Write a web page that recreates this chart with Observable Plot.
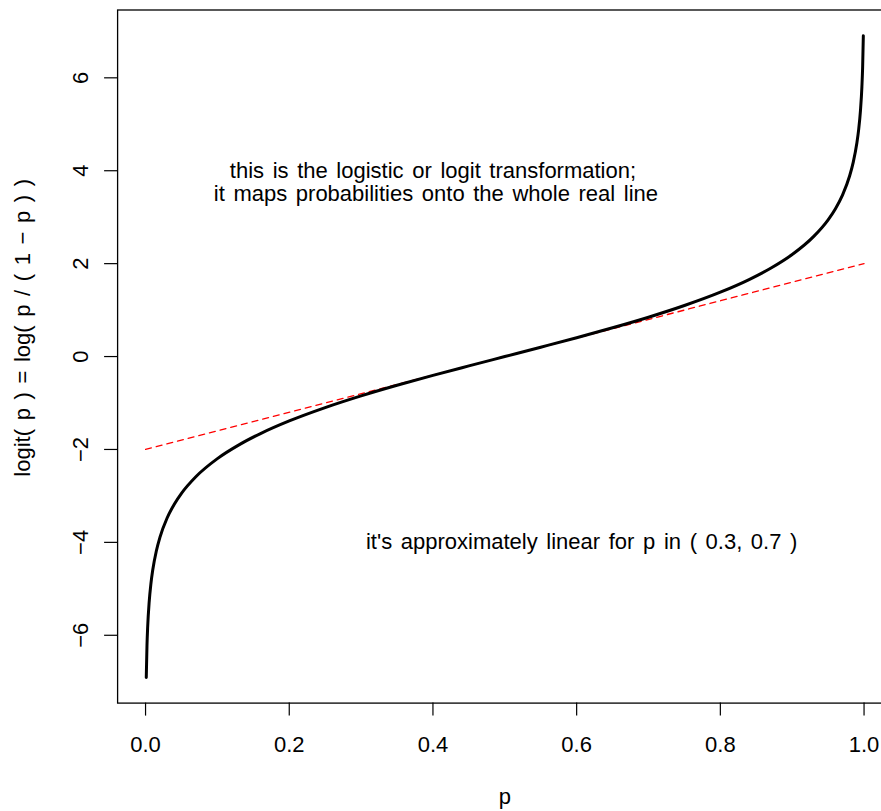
<!DOCTYPE html>
<html>
<head>
<meta charset="utf-8">
<script src="https://cdn.jsdelivr.net/npm/d3@7"></script>
<script src="https://cdn.jsdelivr.net/npm/@observablehq/plot@0.6"></script>
<style>
  html, body { margin: 0; padding: 0; background: #fff; overflow: hidden; }
  svg { display: block; }
  svg text { word-spacing: 2.5px; }
</style>
</head>
<body>
<div id="chart"></div>
<script>
// Values
const pValues = [0.001, 0.002, 0.003, 0.005, 0.0075, 0.01, 0.015, 0.02, 0.03, 0.04, 0.05, 0.07, 0.1, 0.13, 0.16, 0.2, 0.25, 0.3, 0.35, 0.4, 0.45, 0.5,
                 0.55, 0.6, 0.65, 0.7, 0.75, 0.8, 0.84, 0.87, 0.9, 0.93, 0.95, 0.96, 0.97, 0.98, 0.985, 0.99, 0.9925, 0.995, 0.997, 0.998, 0.999];
const logitValues = [-6.907, -6.213, -5.806, -5.293, -4.885, -4.595, -4.185, -3.892, -3.476, -3.178, -2.944, -2.587, -2.197, -1.901, -1.658, -1.386, -1.099, -0.847, -0.619, -0.405, -0.201, 0,
                     0.201, 0.405, 0.619, 0.847, 1.099, 1.386, 1.658, 1.901, 2.197, 2.587, 2.944, 3.178, 3.476, 3.892, 4.185, 4.595, 4.885, 5.293, 5.806, 6.213, 6.907];
const refP = [0, 1];
const refY = [-2, 2];
const xTicks = [0, 0.2, 0.4, 0.6, 0.8, 1.0];
const xTickLabels = ["0.0", "0.2", "0.4", "0.6", "0.8", "1.0"];
const yTicks = [-6, -4, -2, 0, 2, 4, 6];
const yTickLabels = ["\u22126", "\u22124", "\u22122", "0", "2", "4", "6"];
const xTitle = "p";
const yTitle = "logit( p ) = log( p / ( 1 \u2212 p ) )";
const note1 = ["this is the logistic or logit transformation;", "it maps probabilities onto the whole real line"];
const note2 = "it's approximately linear for p in ( 0.3, 0.7 )";

const curveData = pValues.map((p, i) => ({p, y: logitValues[i]}));
const refData = refP.map((p, i) => ({p, y: refY[i]}));
const xt = xTicks.map((v, i) => ({v, label: xTickLabels[i]}));
const yt = yTicks.map((v, i) => ({v, label: yTickLabels[i]}));

const W = 881, H = 811;
const pLeft = 117.1, pRight = 891.5, pTop = 9.5, pBottom = 702.6;
const FS = 22;

const chart = Plot.plot({
  width: W,
  height: H,
  marginLeft: pLeft,
  marginRight: W - pRight,
  marginTop: pTop,
  marginBottom: H - pBottom,
  style: {fontFamily: "'Liberation Sans', Arial, Helvetica, sans-serif", fontSize: FS + "px", background: "#fff", color: "#000"},
  x: {domain: [-0.0389, 1.0389], range: [pLeft, pRight], axis: null},
  y: {domain: [-7.46, 7.46], range: [pBottom, pTop], axis: null},
  marks: [
    Plot.line(refData, {x: "p", y: "y", stroke: "#ff0000", strokeWidth: 1.3, strokeDasharray: "6,5"}),
    Plot.line(curveData, {x: "p", y: "y", stroke: "#000", strokeWidth: 3, curve: "monotone-x"}),
    Plot.frame({stroke: "#000", strokeWidth: 1.3}),
    Plot.axisX(xTicks, {tickSize: 13, tickFormat: () => "", strokeWidth: 1.2}),
    Plot.text(xt, {x: "v", text: "label", frameAnchor: "bottom", dy: 33.5, lineAnchor: "top", fontSize: FS}),
    Plot.axisY(yTicks, {tickSize: 13, tickFormat: () => "", strokeWidth: 1.2}),
    Plot.text(yt, {y: "v", text: "label", frameAnchor: "left", dx: -30, rotate: -90, textAnchor: "middle", lineAnchor: "bottom", fontSize: FS}),
    Plot.text([xTitle], {x: 0.5, frameAnchor: "bottom", dy: 101, lineAnchor: "bottom", text: d => d, fontSize: FS}),
    Plot.text([yTitle], {y: 0.62, frameAnchor: "left", dx: -88, rotate: -90, textAnchor: "middle", lineAnchor: "bottom", text: d => d, fontSize: FS}),
    Plot.text([note1[0]], {x: 0.4, y: 3.84, text: d => d, lineAnchor: "bottom", fontSize: FS}),
    Plot.text([note1[1]], {x: 0.4, y: 3.34, dx: 3, text: d => d, lineAnchor: "bottom", fontSize: FS}),
    Plot.text([note2], {x: 0.607, y: -4.15, text: d => d, lineAnchor: "bottom", fontSize: FS})
  ]
});
document.getElementById("chart").appendChild(chart);
</script>
</body>
</html>
